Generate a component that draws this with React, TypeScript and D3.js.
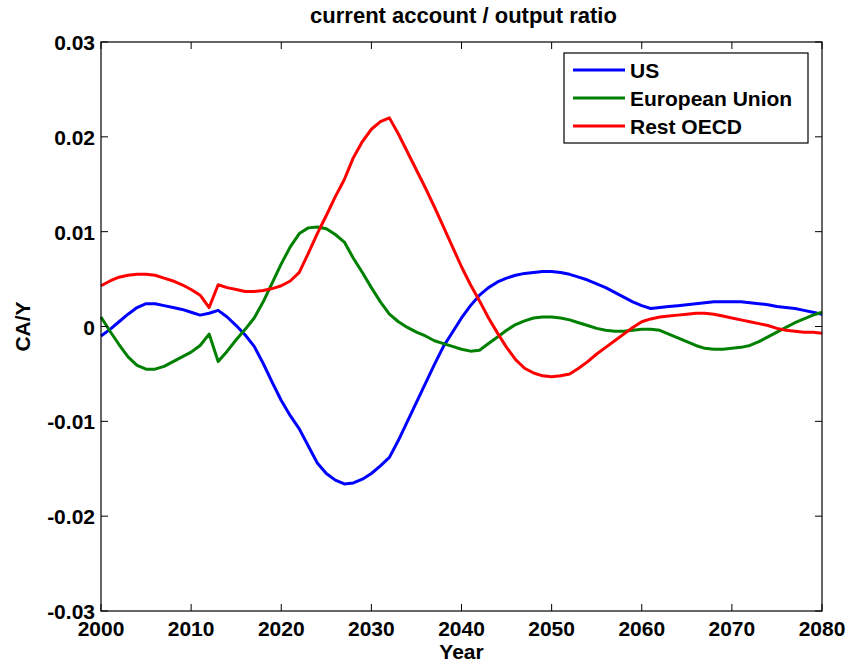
import React, { useEffect, useRef } from 'react';
import * as d3 from 'd3';

// Years 2000..2080, one value per year (CA/Y in thousandths)
const startYear = 2000;
const endYear = 2080;

const usValues = [
  -1.0, -0.3, 0.5, 1.3, 2.0, 2.4, 2.4, 2.2, 2.0, 1.8,
  1.5, 1.2, 1.4, 1.7, 1.0, 0.1, -0.9, -2.1, -3.9, -5.9,
  -7.8, -9.4, -10.8, -12.6, -14.4, -15.5, -16.2, -16.6, -16.5, -16.1,
  -15.5, -14.7, -13.8, -12.0, -10.0, -8.0, -6.0, -4.0, -2.1, -0.6,
  0.9, 2.2, 3.3, 4.1, 4.7, 5.1, 5.4, 5.6, 5.7, 5.8,
  5.8, 5.7, 5.5, 5.2, 4.9, 4.5, 4.1, 3.6, 3.1, 2.6,
  2.2, 1.9, 2.0, 2.1, 2.2, 2.3, 2.4, 2.5, 2.6, 2.6,
  2.6, 2.6, 2.5, 2.4, 2.3, 2.1, 2.0, 1.9, 1.7, 1.5, 1.3,
];

const euValues = [
  1.0, -0.5, -1.9, -3.2, -4.1, -4.5, -4.5, -4.2, -3.7, -3.2,
  -2.7, -2.0, -0.8, -3.7, -2.6, -1.4, -0.3, 0.9, 2.6, 4.6,
  6.6, 8.4, 9.8, 10.4, 10.5, 10.3, 9.7, 8.9, 7.2, 5.7,
  4.1, 2.6, 1.3, 0.5, -0.1, -0.6, -1.0, -1.5, -1.8, -2.1,
  -2.4, -2.6, -2.5, -1.8, -1.1, -0.4, 0.2, 0.6, 0.9, 1.0,
  1.0, 0.9, 0.7, 0.4, 0.1, -0.2, -0.4, -0.5, -0.5, -0.4,
  -0.3, -0.3, -0.4, -0.8, -1.2, -1.6, -2.0, -2.3, -2.4, -2.4,
  -2.3, -2.2, -2.0, -1.6, -1.1, -0.6, -0.1, 0.4, 0.8, 1.2, 1.5,
];

const restValues = [
  4.3, 4.8, 5.2, 5.4, 5.5, 5.5, 5.4, 5.1, 4.8, 4.4,
  3.9, 3.3, 2.0, 4.4, 4.1, 3.9, 3.7, 3.7, 3.8, 4.0,
  4.3, 4.8, 5.7, 7.7, 9.8, 11.7, 13.7, 15.5, 17.8, 19.5,
  20.8, 21.6, 22.0, 20.3, 18.4, 16.5, 14.6, 12.6, 10.5, 8.4,
  6.3, 4.4, 2.7, 0.9, -0.7, -2.2, -3.5, -4.4, -4.9, -5.2,
  -5.3, -5.2, -5.0, -4.4, -3.7, -2.9, -2.2, -1.5, -0.8, -0.1,
  0.5, 0.8, 1.0, 1.1, 1.2, 1.3, 1.4, 1.4, 1.3, 1.1,
  0.9, 0.7, 0.5, 0.3, 0.1, -0.2, -0.4, -0.5, -0.6, -0.6, -0.7,
];

const seriesNames = ['US', 'European Union', 'Rest OECD'];
const seriesColors = ['#0000ff', '#008000', '#ff0000'];

const xTicks = [2000, 2010, 2020, 2030, 2040, 2050, 2060, 2070, 2080];
const yTicks = [-30, -20, -10, 0, 10, 20, 30];
const yTickLabels = ['-0.03', '-0.02', '-0.01', '0', '0.01', '0.02', '0.03'];

const W = 848;
const H = 664;
const FONT = '"Liberation Sans", Arial, Helvetica, sans-serif';

const App = () => {
  const ref = useRef<SVGSVGElement | null>(null);

  useEffect(() => {
    const svg = d3.select(ref.current);
    svg.selectAll('*').remove();

    const margin = { top: 42, right: 26, bottom: 53, left: 101 };
    const width = W - margin.left - margin.right;
    const height = H - margin.top - margin.bottom;

    const x = d3.scaleLinear().domain([startYear, endYear]).range([0, width]);
    const y = d3.scaleLinear().domain([-30, 30]).range([height, 0]);

    const g = svg.append('g').attr('transform', `translate(${margin.left},${margin.top})`);

    const allSeries = [usValues, euValues, restValues];

    const line = d3
      .line<number>()
      .x((_, i) => x(startYear + i))
      .y((d) => y(d));

    allSeries.forEach((vals, k) => {
      g.append('path')
        .datum(vals)
        .attr('fill', 'none')
        .attr('stroke', seriesColors[k])
        .attr('stroke-width', 3)
        .attr('stroke-linejoin', 'round')
        .attr('d', line);
    });

    // box
    g.append('rect')
      .attr('width', width)
      .attr('height', height)
      .attr('fill', 'none')
      .attr('stroke', '#000')
      .attr('stroke-width', 1.2);

    const tickLen = 7;
    // x ticks (bottom and top, inward)
    xTicks.forEach((t) => {
      g.append('line').attr('x1', x(t)).attr('x2', x(t)).attr('y1', height).attr('y2', height - tickLen).attr('stroke', '#000');
      g.append('line').attr('x1', x(t)).attr('x2', x(t)).attr('y1', 0).attr('y2', tickLen).attr('stroke', '#000');
      g.append('text')
        .attr('x', x(t))
        .attr('y', height + 25)
        .attr('text-anchor', 'middle')
        .style('font-family', FONT)
        .style('font-weight', 'bold')
        .style('font-size', '21px')
        .text(String(t));
    });

    // y ticks (left and right, inward)
    yTicks.forEach((t, i) => {
      g.append('line').attr('x1', 0).attr('x2', tickLen).attr('y1', y(t)).attr('y2', y(t)).attr('stroke', '#000');
      g.append('line').attr('x1', width).attr('x2', width - tickLen).attr('y1', y(t)).attr('y2', y(t)).attr('stroke', '#000');
      g.append('text')
        .attr('x', -6)
        .attr('y', y(t) + 8)
        .attr('text-anchor', 'end')
        .style('font-family', FONT)
        .style('font-weight', 'bold')
        .style('font-size', '21px')
        .text(yTickLabels[i]);
    });

    // title
    svg.append('text')
      .attr('x', margin.left + width / 2 + 2)
      .attr('y', 23)
      .attr('text-anchor', 'middle')
      .style('font-family', FONT)
      .style('font-weight', 'bold')
      .style('font-size', '22px')
      .text('current account / output ratio');

    // axis labels
    svg.append('text')
      .attr('x', margin.left + width / 2)
      .attr('y', 659)
      .attr('text-anchor', 'middle')
      .style('font-family', FONT)
      .style('font-weight', 'bold')
      .style('font-size', '21px')
      .text('Year');

    svg.append('text')
      .attr('transform', `translate(30,${margin.top + height / 2}) rotate(-90)`)
      .attr('text-anchor', 'middle')
      .style('font-family', FONT)
      .style('font-weight', 'bold')
      .style('font-size', '21px')
      .text('CA/Y');

    // legend
    const lg = svg.append('g').attr('transform', 'translate(564,53)');
    lg.append('rect')
      .attr('width', 244)
      .attr('height', 90)
      .attr('fill', '#fff')
      .attr('stroke', '#000')
      .attr('stroke-width', 1.2);
    seriesNames.forEach((name, k) => {
      const ly = 17 + k * 28;
      lg.append('line')
        .attr('x1', 9)
        .attr('x2', 61)
        .attr('y1', ly)
        .attr('y2', ly)
        .attr('stroke', seriesColors[k])
        .attr('stroke-width', 3);
      lg.append('text')
        .attr('x', 66)
        .attr('y', ly + 8)
        .style('font-family', FONT)
        .style('font-weight', 'bold')
        .style('font-size', '21px')
        .text(name);
    });
  }, []);

  return (
    <svg
      ref={ref}
      width={W}
      height={H}
      style={{ position: 'absolute', left: 0, top: 0, background: '#fff' }}
    />
  );
};

export default App;
